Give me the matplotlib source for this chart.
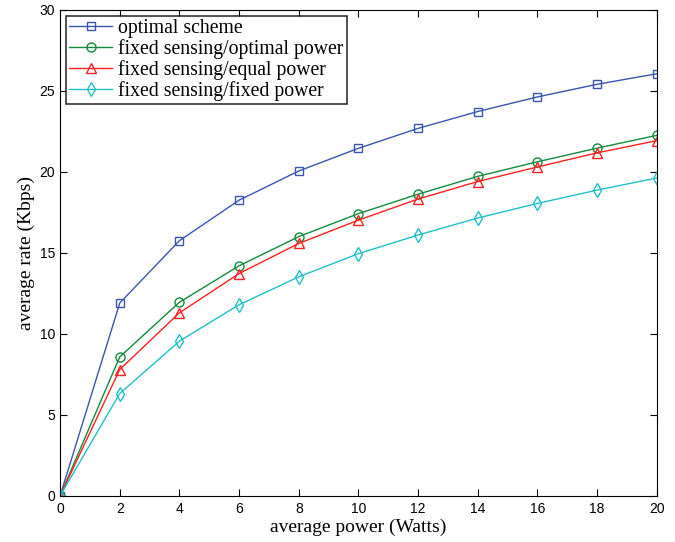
import matplotlib
matplotlib.use("Agg")
import matplotlib.pyplot as plt
import numpy as np

power = [0, 2, 4, 6, 8, 10, 12, 14, 16, 18, 20]
optimal_scheme = [0, 11.9, 15.75, 18.25, 20.05, 21.45, 22.68, 23.72, 24.62, 25.4, 26.05]
fixed_optimal = [0, 8.58, 11.95, 14.2, 16.0, 17.42, 18.62, 19.72, 20.62, 21.46, 22.25]
fixed_equal = [0, 7.8, 11.3, 13.72, 15.58, 17.02, 18.32, 19.4, 20.3, 21.17, 21.92]
fixed_fixed = [0, 6.32, 9.55, 11.8, 13.52, 14.95, 16.1, 17.15, 18.05, 18.87, 19.62]

labels = ['optimal scheme', 'fixed sensing/optimal power',
          'fixed sensing/equal power', 'fixed sensing/fixed power']

fig = plt.figure(figsize=(6.75, 5.42), dpi=100)
ax = fig.add_axes([0.089, 0.085, 0.884, 0.897])

serif = 'Liberation Serif'
sans = 'Liberation Sans'

ax.plot(power, optimal_scheme, color='#3a55b0', marker='s', mfc='none', ms=5.5, lw=1, label=labels[0])
ax.plot(power, fixed_optimal, color='#138a3c', marker='o', mfc='none', ms=6.5, lw=1, label=labels[1])
ax.plot(power, fixed_equal, color='#ff2020', marker='^', mfc='none', ms=7, lw=1, label=labels[2])
ax.plot(power, fixed_fixed, color='#20c0c8', marker='d', mfc='none', ms=7.5, lw=1, label=labels[3])

ax.set_xlim(0, 20)
ax.set_ylim(0, 30)
ax.set_xticks(np.arange(0, 21, 2))
ax.set_yticks(np.arange(0, 31, 5))
ax.tick_params(direction='in', top=True, right=True, length=5, labelsize=10, width=0.8)
ax.tick_params(axis='x', pad=4.5)
ax.tick_params(axis='y', pad=3.5)
for lab in ax.get_xticklabels() + ax.get_yticklabels():
    lab.set_family(sans)

ax.set_xlabel('average power (Watts)', fontsize=14, family=serif, labelpad=2)
ax.set_ylabel('average rate (Kbps)', fontsize=14, family=serif, labelpad=3)

leg = ax.legend(loc='upper left', prop={'family': serif, 'size': 14.2}, fancybox=False,
                edgecolor='black', handlelength=2.2, borderaxespad=0.3,
                labelspacing=0.06, borderpad=0.15, handletextpad=0.3)
leg.get_frame().set_linewidth(1.2)

fig.savefig('out.png', dpi=100)
